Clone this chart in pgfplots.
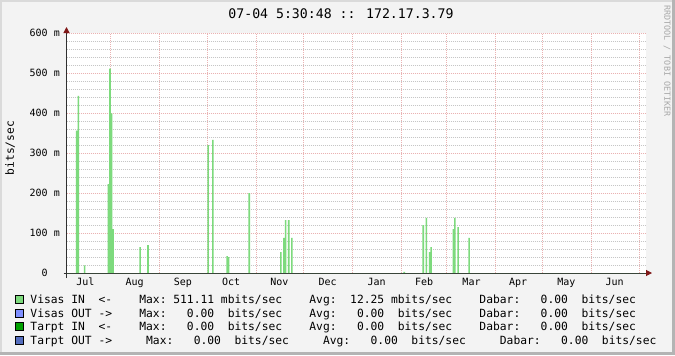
\documentclass[border=0pt]{standalone}
\usepackage{pgfplots}
\pgfplotsset{compat=1.18}
\usepackage{fontspec}
\usetikzlibrary{arrows.meta}
\newfontfamily\dvm{DejaVu Sans Mono}
\newcommand\fleg{\dvm\fontsize{11.3bp}{13bp}\selectfont}
\newcommand\faxis{\dvm\fontsize{10bp}{12bp}\selectfont}
\newcommand\ftitle{\dvm\fontsize{13.2bp}{15bp}\selectfont}
\newcommand\fwm{\dvm\fontsize{8.4bp}{10bp}\selectfont}
\definecolor{bgc}{HTML}{F3F3F3}
\definecolor{shadea}{HTML}{DADADA}
\definecolor{shadeb}{HTML}{B4B4B4}
\definecolor{areac}{RGB}{125,218,125}
\definecolor{visout}{RGB}{127,143,255}
\definecolor{tarin}{RGB}{0,160,0}
\definecolor{tarout}{RGB}{85,110,190}
\definecolor{mgrid}{RGB}{234,178,178}
\definecolor{ngrid}{RGB}{198,198,198}
\definecolor{axisc}{HTML}{303030}
\definecolor{arrowc}{RGB}{128,24,24}
\definecolor{wmc}{HTML}{A8A8A8}
\begin{document}
\begin{tikzpicture}[x=1bp,y=1bp]
\path[use as bounding box] (0,0) rectangle (675,355);
\fill[bgc] (0,0) rectangle (675,355);
\fill[shadea] (0,353) rectangle (675,355);
\fill[shadea] (0,0) rectangle (2,355);
\fill[shadeb] (672,0) rectangle (675,355);
\fill[shadeb] (0,0) rectangle (675,3);
\begin{axis}[
  at={(66.5bp,82bp)}, anchor=south west,
  scale only axis, width=579.5bp, height=240bp,
  xmin=0, xmax=366.3, ymin=0, ymax=600,
  axis background/.style={fill=white},
  axis lines=left,
  axis line style={draw=axisc, line width=1bp},
  x axis line style={shorten <=-3bp, shorten >=-6bp, -{Triangle[length=6bp,width=6bp,color=arrowc]}},
  y axis line style={shorten <=-5bp, shorten >=-6bp, -{Triangle[length=6bp,width=6bp,color=arrowc]}},
  xtick={28,59,89,120,150,181,212,240,271,301,332,362},
  xticklabels={},
  extra x ticks={12,43,73.5,104,134.5,165,196,226,256,285.5,316,346.5},
  extra x tick labels={Jul,Aug,Sep,Oct,Nov,Dec,Jan,Feb,Mar,Apr,May,Jun},
  extra x tick style={grid=none},
  ytick={0,100,200,300,400,500,600},
  yticklabels={0\phantom{mm},100~m,200~m,300~m,400~m,500~m,600~m},
  minor ytick={20,40,60,80,120,140,160,180,220,240,260,280,320,340,360,380,420,440,460,480,520,540,560,580},
  grid=both,
  major tick length=0pt, minor tick length=0pt,
  tick style={draw=none},
  major grid style={draw=mgrid, line width=0.9bp, dash pattern=on 1bp off 1bp},
  minor grid style={draw=ngrid, line width=0.9bp, dash pattern=on 1bp off 1bp},
  xticklabel style={font=\faxis, anchor=north, inner sep=0pt, yshift=-5bp},
  yticklabel style={font=\faxis, anchor=east, inner sep=0pt, xshift=-6.5bp},
]
\addplot[const plot, fill=areac, draw=none] coordinates {
(0,0) (6,356) (7,443) (8,0) (11,19) (12,0)
(26,222) (27,511.11) (28,399) (29,110) (30,0)
(46,65) (47,0) (51,70) (52,0)
(89,320) (90,0) (92,333) (93,0)
(101,42) (102,40) (103,0) (115,200) (116,0)
(135,52) (136,0) (137,88) (138,132) (139,0) (140,132) (141,0) (142,88) (143,0)
(213,3) (214,0)
(225,120) (226,0) (227,138) (228,0) (229,52) (230,65) (231,0)
(244,110) (245,138) (246,0) (247,115) (248,0) (254,88) (255,0)
(366.3,0)
} \closedcycle;
\end{axis}
\node[font=\ftitle, inner sep=0pt, text=black] at (341,341) {07-04 5:30:48 :: 172.17.3.79};
\node[font=\fleg, rotate=90, inner sep=0pt] at (10,207) {bits/sec};
\node[font=\fwm, rotate=-90, inner sep=0pt, text=wmc] at (667,294) {RRDTOOL / TOBI OETIKER};
% legend
\filldraw[fill=areac, draw=black, line width=0.8bp] (15.5,51.5) rectangle (23.5,59.5);
\node[font=\fleg, anchor=base west, inner sep=0pt] at (30.3,51.4) {Visas~IN~~<-~~~~Max:~511.11~mbits/sec~~~~Avg:~~12.25~mbits/sec~~~~Dabar:~~~0.00~~bits/sec};
\filldraw[fill=visout, draw=black, line width=0.8bp] (15.5,38) rectangle (23.5,46);
\node[font=\fleg, anchor=base west, inner sep=0pt] at (30.3,37.9) {Visas~OUT~->~~~~Max:~~~0.00~~bits/sec~~~~Avg:~~~0.00~~bits/sec~~~~Dabar:~~~0.00~~bits/sec};
\filldraw[fill=tarin, draw=black, line width=0.8bp] (15.5,24.5) rectangle (23.5,32.5);
\node[font=\fleg, anchor=base west, inner sep=0pt] at (30.3,24.4) {Tarpt~IN~~<-~~~~Max:~~~0.00~~bits/sec~~~~Avg:~~~0.00~~bits/sec~~~~Dabar:~~~0.00~~bits/sec};
\filldraw[fill=tarout, draw=black, line width=0.8bp] (15.5,11) rectangle (23.5,19);
\node[font=\fleg, anchor=base west, inner sep=0pt] at (30.3,10.9) {Tarpt~OUT~->~~~~~Max:~~~0.00~~bits/sec~~~~~Avg:~~~0.00~~bits/sec~~~~~Dabar:~~~0.00~~bits/sec};
\end{tikzpicture}
\end{document}
